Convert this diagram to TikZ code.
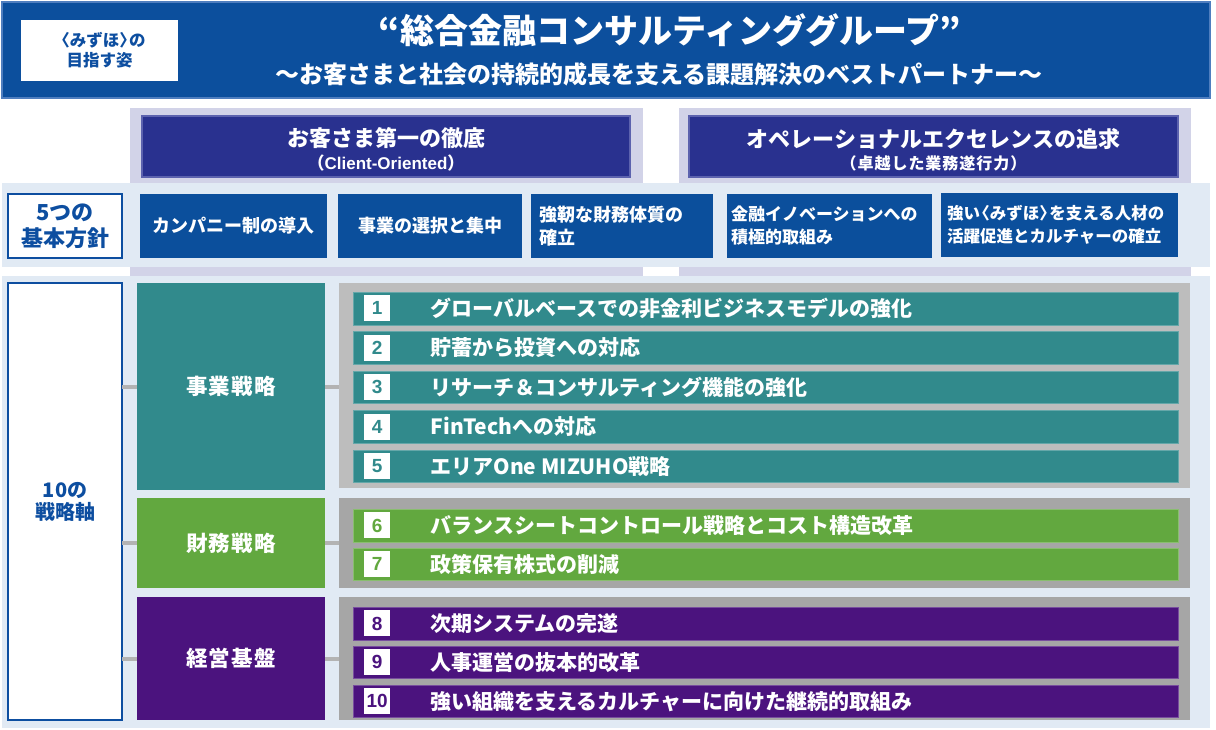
\documentclass[tikz,border=0pt]{standalone}
\usepackage{fontspec}
\setmainfont{Noto Sans CJK JP}
\newfontfamily\numfont{Liberation Sans}
\newcommand\openbrk{\kern-0.4em〈}
\newcommand\closebrk{〉\kern-0.4em}
\usepackage{tikz}
\usetikzlibrary{positioning}

\definecolor{hdrblue}{HTML}{0C4F9D}
\definecolor{hdredge}{HTML}{4F7EBF}
\definecolor{navy}{HTML}{29318F}
\definecolor{navyedge}{HTML}{5C62AE}
\definecolor{lavender}{HTML}{D2D3E8}
\definecolor{paleblue}{HTML}{E1EAF4}
\definecolor{polblue}{HTML}{0B4F9C}
\definecolor{inkblue}{HTML}{0D4EA0}
\definecolor{bizteal}{HTML}{318A8C}
\definecolor{fingreen}{HTML}{62A83F}
\definecolor{basepurple}{HTML}{4B137E}
\definecolor{graylight}{HTML}{BDBDBD}
\definecolor{graydark}{HTML}{A6A6A6}
\definecolor{linkgray}{HTML}{B3B3B3}

\begin{document}
\begin{tikzpicture}[x=1pt, y=-1pt,
        nw/.style={anchor=north west, inner sep=0pt, outer sep=0pt},
        hdrbox/.style={nw, fill=hdrblue, draw=hdredge, line width=1.5pt},
        whitebox/.style={nw, fill=white, draw=inkblue, line width=2pt, text=inkblue, align=center, font=\bfseries\fontsize{20}{22}\selectfont},
        navybox/.style={nw, fill=navy, draw=navyedge, line width=1.5pt},
        navytext/.style={text=white, align=center, inner sep=0pt, font=\bfseries},
        policy/.style={nw, fill=polblue, text=white, minimum height=64, inner xsep=8pt, align=left, font=\bfseries\fontsize{18}{23}\selectfont},
        catbox/.style={nw, minimum width=188, text=white, font=\bfseries\fontsize{21.5}{22}\selectfont\addfontfeature{LetterSpace=6}},
        group/.style={nw, minimum width=851},
        bar/.style={fill=#1, draw=#1!75!white, minimum width=825, minimum height=32.5, inner sep=0pt},
        num/.style={fill=white, minimum width=26, minimum height=26, inner sep=0pt, font=\numfont\bfseries\fontsize{19}{19}\selectfont},
        itemtext/.style={inner sep=0pt, text=white, font=\bfseries\fontsize{21}{21}\selectfont},
        link/.style={draw=linkgray, line width=4pt}
    ]
        \useasboundingbox (0,0) rectangle (1216,729);

        % backgrounds
        \fill[lavender] (130,108) rectangle (643,276);
        \fill[lavender] (679,108) rectangle (1191,276);
        \fill[paleblue] (2,183) rectangle (1210,267);
        \fill[paleblue] (2,276) rectangle (1210,728);

        % header
        \node[hdrbox, minimum width=1208, minimum height=96] (hdr) at (2,2) {};
        \node[whitebox, draw=none, minimum width=157, minimum height=61, font=\bfseries\fontsize{16.5}{20}\selectfont] (aim) at (21,20) {〈みずほ\closebrk の\\目指す姿};
        \node[text=white, font=\bfseries\fontsize{34}{34}\selectfont] (title) at (670,30) {“総合金融コンサルティンググループ”};
        \node[text=white, font=\bfseries\fontsize{24}{24}\selectfont] (motto) at (659,74) {～お客さまと社会の持続的成長を支える課題解決のベストパートナー～};

        \node[navybox, minimum width=488, minimum height=61] (client) at (142,116) {};
        \node[navytext] (clientlbl) at ([yshift=-3pt]client.center) {{\fontsize{22}{22}\selectfont お客さま第一の徹底}\\[5pt]{\fontsize{17}{17}\selectfont （{\numfont Client-Oriented}）}};
        \node[navybox, minimum width=489, minimum height=61] (opex) at (689,116) {};
        \node[navytext] (opexlbl) at ([yshift=-3pt]opex.center) {{\fontsize{22}{22}\selectfont オペレーショナルエクセレンスの追求}\\[5pt]{\fontsize{16}{16}\selectfont\addfontfeature{LetterSpace=6}（卓越した業務遂行力）}};

        % 5 policies
        \node[whitebox, minimum width=114, minimum height=64, font=\bfseries\fontsize{22}{26}\selectfont] (five) at (8,194) {5つの\\基本方針};
        \node[policy, text width=171, align=center] (p1) at (140,194) {カンパニー制の導入};
        \node[policy, text width=168, align=center] (p2) at (338,194) {事業の選択と集中};
        \node[policy, text width=166] (p3) at (531,194) {強靭な財務体質の\\確立};
        \node[policy, text width=197, inner xsep=4pt, font=\bfseries\fontsize{17}{23}\selectfont] (p4) at (727,194) {金融イノベーションへの\\積極的取組み};
        \node[policy, text width=225, inner xsep=6pt, font=\bfseries\fontsize{16.5}{23}\selectfont] (p5) at (941,193) {強い\openbrk みずほ\closebrk を支える人材の\\活躍促進とカルチャーの確立};

        % 10 strategic axes
        \node[whitebox, minimum width=114, minimum height=437] (ten) at (8,283) {10の\\戦略軸};
        \node[catbox, fill=bizteal, minimum height=207] (biz) at (137,283) {事業戦略};
        \node[catbox, fill=fingreen, minimum height=90] (fin) at (137,498) {財務戦略};
        \node[catbox, fill=basepurple, minimum height=123] (base) at (137,597) {経営基盤};

        \node[group, fill=graylight, minimum height=205] (bizset) at (339,283) {};
        \node[group, fill=graydark, minimum height=90] (finset) at (339,498) {};
        \node[group, fill=graydark, minimum height=123] (baseset) at (339,597) {};

        \draw[link] (ten.east |- biz) -- (biz);
        \draw[link] (ten.east |- fin) -- (fin);
        \draw[link] (ten.east |- base) -- (base);
        \draw[link] (biz) -- (bizset.west |- biz);
        \draw[link] (fin) -- (finset.west |- fin);
        \draw[link] (base) -- (baseset.west |- base);

        \node[bar=bizteal, anchor=north west] (i1) at (353,292) {};
        \node[bar=bizteal, below=6.5pt of i1] (i2) {};
        \node[bar=bizteal, below=6.5pt of i2] (i3) {};
        \node[bar=bizteal, below=6.5pt of i3] (i4) {};
        \node[bar=bizteal, below=6.5pt of i4] (i5) {};
        \node[bar=fingreen, anchor=north west] (i6) at (353,509) {};
        \node[bar=fingreen, below=6pt of i6] (i7) {};
        \node[bar=basepurple, anchor=north west] (i8) at (353,607) {};
        \node[bar=basepurple, below=6pt of i8] (i9) {};
        \node[bar=basepurple, below=6pt of i9] (i10) {};

        \node[num, text=bizteal, right=11pt of i1.west] (n1) {1};
        \node[num, text=bizteal, right=11pt of i2.west] (n2) {2};
        \node[num, text=bizteal, right=11pt of i3.west] (n3) {3};
        \node[num, text=bizteal, right=11pt of i4.west] (n4) {4};
        \node[num, text=bizteal, right=11pt of i5.west] (n5) {5};
        \node[num, text=fingreen, right=11pt of i6.west] (n6) {6};
        \node[num, text=fingreen, right=11pt of i7.west] (n7) {7};
        \node[num, text=basepurple, right=11pt of i8.west] (n8) {8};
        \node[num, text=basepurple, right=11pt of i9.west] (n9) {9};
        \node[num, text=basepurple, right=11pt of i10.west] (n10) {10};

        \node[itemtext, right=40pt of n1] (t1) {グローバルベースでの非金利ビジネスモデルの強化};
        \node[itemtext, right=40pt of n2] (t2) {貯蓄から投資への対応};
        \node[itemtext, right=40pt of n3] (t3) {リサーチ＆コンサルティング機能の強化};
        \node[itemtext, right=40pt of n4] (t4) {FinTechへの対応};
        \node[itemtext, right=40pt of n5] (t5) {エリアOne MIZUHO戦略};
        \node[itemtext, right=40pt of n6] (t6) {バランスシートコントロール戦略とコスト構造改革};
        \node[itemtext, right=40pt of n7] (t7) {政策保有株式の削減};
        \node[itemtext, right=40pt of n8] (t8) {次期システムの完遂};
        \node[itemtext, right=40pt of n9] (t9) {人事運営の抜本的改革};
        \node[itemtext, right=40pt of n10] (t10) {強い組織を支えるカルチャーに向けた継続的取組み};
    \end{tikzpicture}
\end{document}
